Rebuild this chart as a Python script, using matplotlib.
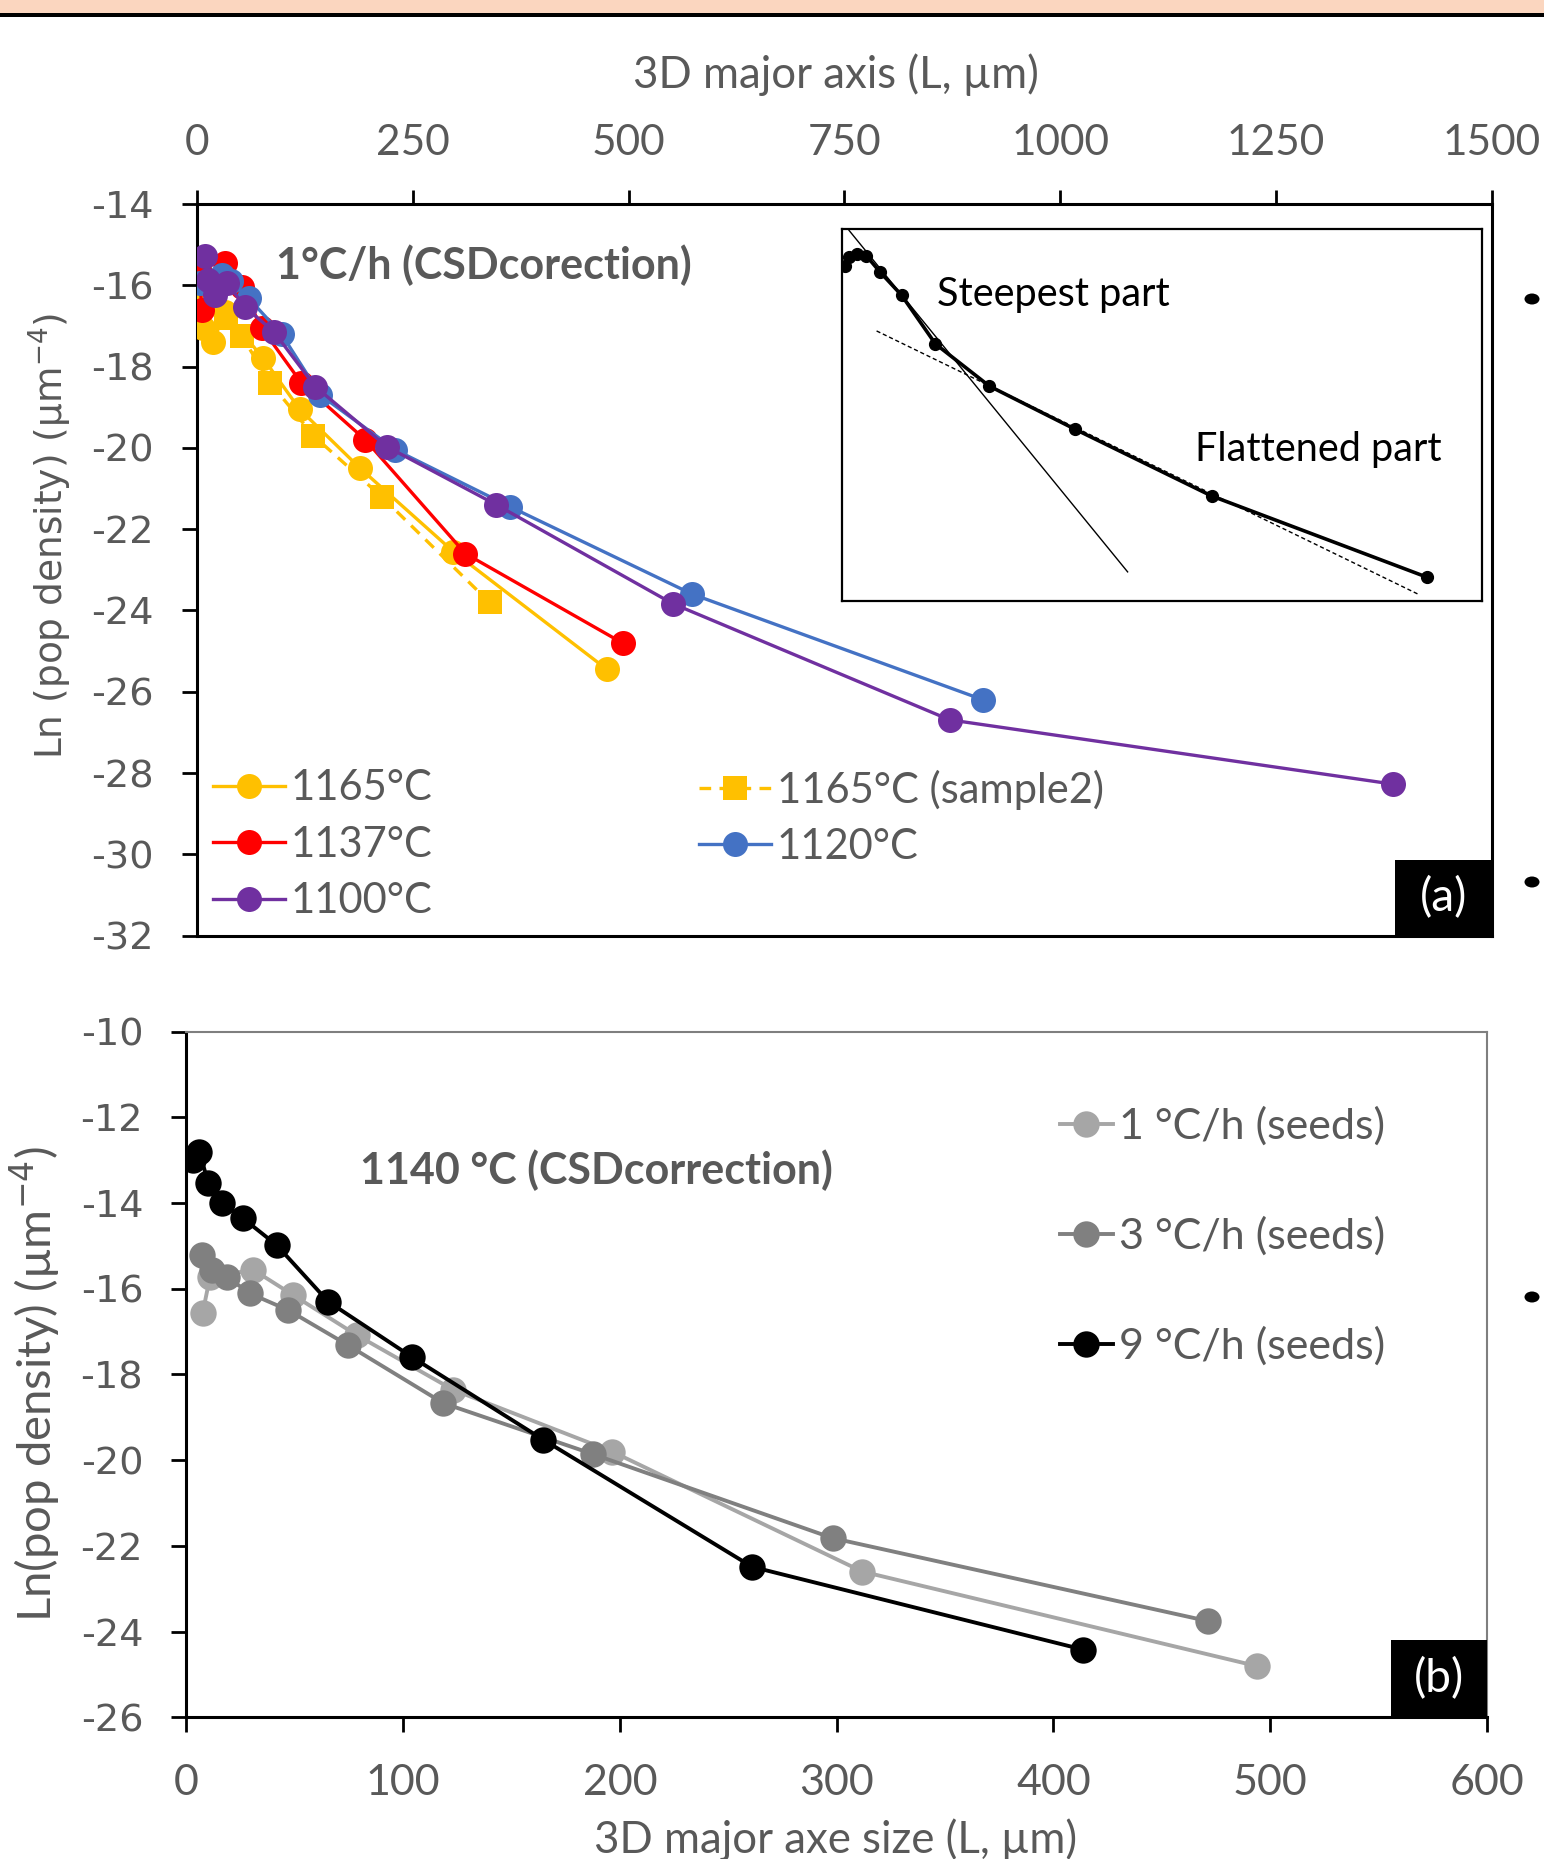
import matplotlib
matplotlib.use('Agg')
import matplotlib.pyplot as plt
from matplotlib.patches import Rectangle, Ellipse

plt.rcParams['axes.unicode_minus'] = False
plt.rcParams['mathtext.fontset'] = 'dejavusans'

W, H = 1544, 1859
fig = plt.figure(figsize=(W / 100, H / 100), dpi=100)

GRAY = '#595959'
CAL = ['Lato', 'DejaVu Sans']
VER = ['DejaVu Sans']

# ---------------- data: panel (a) ----------------
L_1165 = [2, 7, 19, 32, 77, 119, 189, 297, 475]
n_1165 = [-16.15, -17.05, -17.4, -16.65, -17.8, -19.05, -20.5, -22.55, -25.45]
L_1165s2 = [20, 34, 52, 85, 135, 214, 339]
n_1165s2 = [-16.4, -16.8, -17.25, -18.4, -19.7, -21.2, -23.8]
L_1137 = [2, 6, 32, 52, 75, 121, 195, 311, 493]
n_1137 = [-15.6, -16.6, -15.45, -16.05, -17.05, -18.4, -19.8, -22.6, -24.8]
L_1120 = [4, 29, 40, 60, 98, 143, 230, 363, 574, 911]
n_1120 = [-15.95, -15.75, -15.9, -16.32, -17.2, -18.7, -20.05, -21.45, -23.6, -26.2]
L_1100 = [9, 13, 21, 35, 56, 89, 137, 220, 347, 551, 872, 1385]
n_1100 = [-15.28, -15.87, -16.24, -15.95, -16.54, -17.14, -18.49, -19.97, -21.4, -23.83, -26.69, -28.27]

# inset schematic (normalised units)
ins_x = [0.005, 0.011, 0.024, 0.038, 0.059, 0.093, 0.146, 0.230, 0.364, 0.577, 0.913]
ins_y = [0.901, 0.924, 0.933, 0.928, 0.885, 0.822, 0.691, 0.578, 0.462, 0.283, 0.065]
steep_x = [0.011, 0.446]
steep_y = [0.996, 0.079]
flat_x = [0.054, 0.901]
flat_y = [0.726, 0.018]

# ---------------- data: panel (b) ----------------
L_r1 = [7.6, 11, 31, 49.4, 78.6, 123.2, 196.4, 311.8, 494]
n_r1 = [-16.56, -15.72, -15.56, -16.15, -17.08, -18.36, -19.8, -22.6, -24.81]
L_r3 = [7.1, 11.8, 18.7, 29.4, 47.1, 74.4, 118.6, 187.6, 298.1, 471.5]
n_r3 = [-15.21, -15.56, -15.72, -16.11, -16.5, -17.31, -18.67, -19.86, -21.82, -23.76]
L_r9 = [3.3, 6.1, 10.2, 16.4, 26.3, 41.7, 65.5, 104, 164.6, 261, 413.5]
n_r9 = [-13.0, -12.8, -13.54, -14.0, -14.36, -14.98, -16.3, -17.59, -19.52, -22.49, -24.42]

top_xticks = [0, 250, 500, 750, 1000, 1250, 1500]
top_yticks = [-14, -16, -18, -20, -22, -24, -26, -28, -30, -32]
bot_xticks = [0, 100, 200, 300, 400, 500, 600]
bot_yticks = [-10, -12, -14, -16, -18, -20, -22, -24, -26]


def axrect(l, t, r, b):
    return [l / W, 1 - b / H, (r - l) / W, (b - t) / H]


# ---------- decorations of the page ----------
fig.add_artist(Rectangle((0, 1 - 13 / H), 1, 13 / H, transform=fig.transFigure,
                         facecolor='#FBD6BF', edgecolor='none'))
fig.add_artist(Rectangle((0, 1 - 16.5 / H), 1, 3.5 / H, transform=fig.transFigure,
                         facecolor='black', edgecolor='none'))
for yb in [299, 882, 1297]:
    fig.add_artist(Ellipse((1532 / W, 1 - yb / H), 15 / W, 11 / H,
                           transform=fig.transFigure, facecolor='black', edgecolor='none'))

# ================= panel (a) =================
ax1 = fig.add_axes(axrect(196.9, 204, 1491.9, 935.7))
ax1.set_xlim(0, 1500)
ax1.set_ylim(-32, -14)
ax1.xaxis.tick_top()
ax1.set_xticks(top_xticks)
ax1.set_yticks(top_yticks)
ax1.set_xticklabels([str(v) for v in top_xticks])
ax1.set_yticklabels([str(v) for v in top_yticks])
for s in ax1.spines.values():
    s.set_color('black')
    s.set_linewidth(2.2)
ax1.tick_params(axis='x', direction='out', length=10, width=2, pad=20.5,
                labelsize=30.5, labelcolor=GRAY, color='black')
ax1.tick_params(axis='y', direction='out', length=11, width=2, pad=20,
                labelsize=27.5, labelcolor=GRAY, color='black')
for lab in ax1.get_xticklabels():
    lab.set_fontfamily(CAL)
for lab in ax1.get_yticklabels():
    lab.set_fontfamily(VER)

ms1, lw1 = 18, 2.4
h1165, = ax1.plot(L_1165, n_1165, '-o', color='#FFC000', lw=lw1, ms=ms1, mew=0, zorder=3,
                  label='1165°C')
h1165s2, = ax1.plot(L_1165s2, n_1165s2, linestyle=(0, (3.5, 2.5)), marker='s', color='#FFC000',
                    lw=lw1, ms=ms1 * 0.95, mew=0, zorder=3.5, label='1165°C (sample2)')
h1137, = ax1.plot(L_1137, n_1137, '-o', color='#FF0000', lw=lw1, ms=ms1, mew=0, zorder=4,
                  label='1137°C')
h1120, = ax1.plot(L_1120, n_1120, '-o', color='#4472C4', lw=lw1, ms=ms1, mew=0, zorder=5,
                  label='1120°C')
h1100, = ax1.plot(L_1100, n_1100, '-o', color='#7030A0', lw=lw1, ms=ms1, mew=0, zorder=6,
                  label='1100°C')

ax1.text((276.3 - 196.9) / 1295, 1 - (265.6 - 204) / 731.7, '1°C/h (CSDcorection)',
         transform=ax1.transAxes, ha='left', va='center', fontsize=31,
         fontweight='bold', color=GRAY, family=CAL)

leg_kw = dict(frameon=False, handlelength=1.72, handletextpad=0.15,
              labelspacing=0.44, borderpad=0, borderaxespad=0, labelcolor=GRAY,
              prop={'family': CAL, 'size': 30})
leg1 = ax1.legend(handles=[h1165, h1137, h1100], loc='upper left',
                  bbox_to_anchor=((213 - 196.9) / 1295, 1 - (769.5 - 204) / 731.7), **leg_kw)
ax1.add_artist(leg1)
leg2 = ax1.legend(handles=[h1165s2, h1120], loc='upper left',
                  bbox_to_anchor=((699 - 196.9) / 1295, 1 - (769.5 - 204) / 731.7), **leg_kw)

ax1.add_patch(Rectangle((0.9249, 0), 0.0751, 0.1037, transform=ax1.transAxes,
                        facecolor='black', edgecolor='none', zorder=10))
ax1.text(0.9249 + 0.0751 / 2, 0.1037 / 2, '(a)', transform=ax1.transAxes, ha='center',
         va='center', color='white', fontsize=33, family=CAL, zorder=11)

fig.text(836 / W, 1 - 74.7 / H, '3D major axis (L, µm)', ha='center', va='center',
         fontsize=31.5, color=GRAY, family=CAL)
fig.text(49.8 / W, 1 - 536 / H, r'Ln (pop density) (µm$^{-4}$)', ha='center', va='center',
         rotation=90, fontsize=27, color=GRAY, family=VER)

# inset
axi = fig.add_axes(axrect(842, 228.9, 1482.4, 601.3))
axi.set_xlim(0, 1)
axi.set_ylim(0, 1)
axi.set_xticks([])
axi.set_yticks([])
axi.patch.set_alpha(0)
for s in axi.spines.values():
    s.set_color('black')
    s.set_linewidth(1.6)
axi.plot(steep_x, steep_y, color='black', lw=1.0)
axi.plot(flat_x, flat_y, color='black', lw=1.0, linestyle=(0, (3, 2)))
axi.plot(ins_x, ins_y, '-o', color='black', lw=2.6, ms=8.5)
axi.text(0.149, 0.825, 'Steepest part', ha='left', va='center', fontsize=28.5,
         color='black', family=CAL)
axi.text(0.551, 0.408, 'Flattened part', ha='left', va='center', fontsize=28.5,
         color='black', family=CAL)

# ================= panel (b) =================
ax2 = fig.add_axes(axrect(186.2, 1031.7, 1487.1, 1717.2))
ax2.set_xlim(0, 600)
ax2.set_ylim(-26, -10)
ax2.set_xticks(bot_xticks)
ax2.set_yticks(bot_yticks)
ax2.set_xticklabels([str(v) for v in bot_xticks])
ax2.set_yticklabels([str(v) for v in bot_yticks])
for k in ['left', 'bottom']:
    ax2.spines[k].set_color('black')
    ax2.spines[k].set_linewidth(2.2)
for k in ['top', 'right']:
    ax2.spines[k].set_color('#7F7F7F')
    ax2.spines[k].set_linewidth(1.5)
ax2.tick_params(axis='x', direction='out', length=11, width=2, pad=22.5,
                labelsize=31, labelcolor=GRAY, color='black')
ax2.tick_params(axis='y', direction='out', length=11, width=2, pad=20,
                labelsize=27.5, labelcolor=GRAY, color='black')
for lab in ax2.get_xticklabels():
    lab.set_fontfamily(CAL)
for lab in ax2.get_yticklabels():
    lab.set_fontfamily(VER)

ms2, lw2 = 19, 2.8
hr1, = ax2.plot(L_r1, n_r1, '-o', color='#A6A6A6', lw=lw2, ms=ms2, mew=0, zorder=3,
                label='1 °C/h (seeds)')
hr3, = ax2.plot(L_r3, n_r3, '-o', color='#808080', lw=lw2, ms=ms2, mew=0, zorder=4,
                label='3 °C/h (seeds)')
hr9, = ax2.plot(L_r9, n_r9, '-o', color='black', lw=lw2, ms=ms2, mew=0, zorder=5,
                label='9 °C/h (seeds)')

ax2.text((360.5 - 186.2) / 1300.9, 1 - (1170.5 - 1031.7) / 685.5, '1140 °C (CSDcorrection)',
         transform=ax2.transAxes, ha='left', va='center', fontsize=31,
         fontweight='bold', color=GRAY, family=CAL)

ax2.legend(handles=[hr1, hr3, hr9], loc='upper left',
           bbox_to_anchor=((1060 - 186.2) / 1300.9, 1 - (1106.5 - 1031.7) / 685.5),
           frameon=False, handlelength=1.23, handletextpad=0.15, labelspacing=1.64,
           borderpad=0, borderaxespad=0, labelcolor=GRAY, prop={'family': CAL, 'size': 31})

ax2.add_patch(Rectangle((0.9261, 0), 0.0739, 0.1125, transform=ax2.transAxes,
                        facecolor='black', edgecolor='none', zorder=10))
ax2.text(0.9261 + 0.0739 / 2, 0.1125 / 2, '(b)', transform=ax2.transAxes, ha='center',
         va='center', color='white', fontsize=33, family=CAL, zorder=11)

fig.text(836 / W, 1 - 1840 / H, '3D major axe size (L, µm)', ha='center', va='center',
         fontsize=31.5, color=GRAY, family=CAL)
fig.text(35.6 / W, 1 - 1384 / H, r'Ln(pop density) (µm$^{-4}$)', ha='center', va='center',
         rotation=90, fontsize=34, color=GRAY, family=CAL)

fig.savefig('out.png', dpi=100, facecolor='white')
